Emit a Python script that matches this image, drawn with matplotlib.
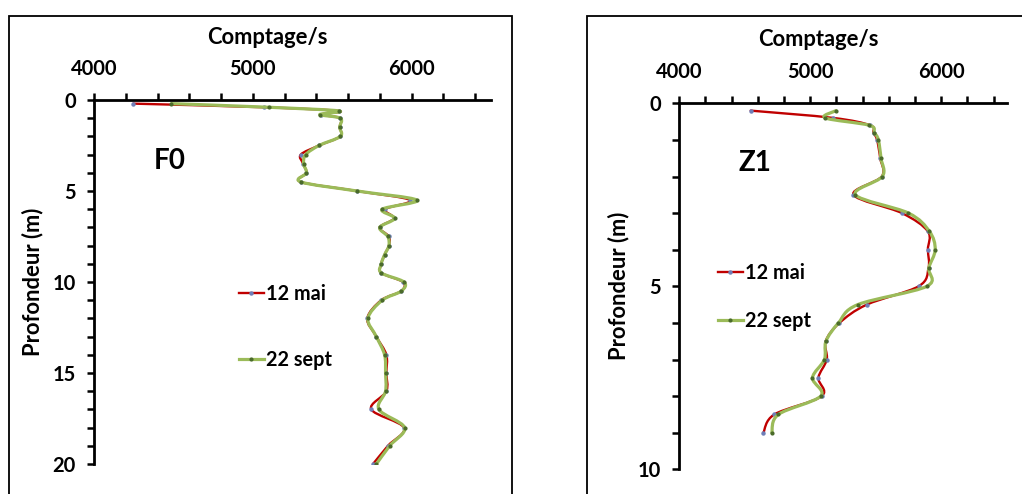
import numpy as np
import matplotlib.pyplot as plt
from matplotlib.path import Path
from matplotlib.patches import PathPatch, Rectangle
from matplotlib.lines import Line2D
from matplotlib.ticker import MultipleLocator, FixedLocator

plt.rcParams['font.family'] = ['Lato', 'DejaVu Sans']
plt.rcParams['font.weight'] = 'bold'

# F0 profile
depth_f0 = [0.2, 0.4, 0.6, 0.8, 1.0, 1.5, 2.0, 2.5, 3.0, 3.5, 4.0, 4.5, 5.0, 5.5,
            6.0, 6.5, 7.0, 7.5, 8.0, 8.5, 9.0, 9.5, 10.0, 10.5, 11.0,
            12, 13, 14, 15, 16, 17, 18, 19, 20]
mai_f0 = [4247, 5071, 5543, 5430, 5551, 5547, 5551, 5417, 5302, 5317, 5338, 5302, 5656, 5992,
          5834, 5889, 5799, 5857, 5857, 5830, 5809, 5809, 5945, 5935, 5809,
          5721, 5778, 5841, 5841, 5841, 5746, 5952, 5851, 5757]
sept_f0 = [4488, 5103, 5543, 5421, 5551, 5547, 5551, 5417, 5333, 5320, 5338, 5302, 5656, 6033,
           5815, 5893, 5799, 5850, 5857, 5830, 5809, 5809, 5952, 5935, 5815,
           5725, 5778, 5830, 5836, 5836, 5794, 5956, 5862, 5778]

# Z1 profile
depth_z1 = [0.2, 0.4, 0.6, 0.8, 1.0, 1.5, 2.0, 2.5, 3.0, 3.5, 4.0, 4.5, 5.0, 5.5,
            6.0, 6.5, 7.0, 7.5, 8.0, 8.5, 9.0]
mai_z1 = [4545, 5177, 5457, 5483, 5510, 5534, 5546, 5330, 5700, 5898, 5898, 5903, 5827, 5432,
          5223, 5118, 5126, 5062, 5088, 4726, 4642]
sept_z1 = [5197, 5113, 5450, 5490, 5520, 5540, 5550, 5345, 5750, 5910, 5954, 5905, 5890, 5363,
           5215, 5120, 5108, 5017, 5080, 4757, 4706]

labels = ['12 mai', '22 sept']
red = '#C00000'
green = '#9BBB59'


def smooth_path(x, y):
    # excel-like smoothed line: bezier segments with catmull-rom control points
    p = np.column_stack([x, y]).astype(float)
    verts = [p[0]]
    codes = [Path.MOVETO]
    n = len(p)
    for i in range(n - 1):
        p0 = p[i - 1] if i > 0 else p[i]
        p3 = p[i + 2] if i + 2 < n else p[i + 1]
        c1 = p[i] + (p[i + 1] - p0) / 6
        c2 = p[i + 1] - (p3 - p[i]) / 6
        verts += [c1, c2, p[i + 1]]
        codes += [Path.CURVE4] * 3
    return Path(verts, codes)


def panel(rect, depth, mai, sept, ymax, name, name_pos, xlab_x, ylab_x, leg_pos, leg_space):
    ax = fig.add_axes(rect)
    ax.add_patch(PathPatch(smooth_path(mai, depth), fill=False, ec=red, lw=1.7,
                           capstyle='round', joinstyle='round', zorder=3))
    ax.plot(mai, depth, ls='none', marker='o', ms=2.2, color='#6F7FB8', zorder=4)
    ax.add_patch(PathPatch(smooth_path(sept, depth), fill=False, ec=green, lw=2.3,
                           capstyle='round', joinstyle='round', zorder=5))
    ax.plot(sept, depth, ls='none', marker='o', ms=2.0, color='#4A6A2A', zorder=6)

    ax.set_xlim(4000, 6500)
    ax.set_ylim(ymax, 0)
    ax.xaxis.tick_top()
    ax.xaxis.set_label_position('top')
    ax.xaxis.set_major_locator(FixedLocator([4000, 5000, 6000]))
    ax.xaxis.set_minor_locator(MultipleLocator(200))
    ax.yaxis.set_major_locator(MultipleLocator(5))
    ax.yaxis.set_minor_locator(MultipleLocator(1))
    for s in ['right', 'bottom']:
        ax.spines[s].set_visible(False)
    for s in ['top', 'left']:
        ax.spines[s].set_linewidth(2)
    ax.tick_params(which='both', direction='out', length=5, width=1.8)
    ax.tick_params(axis='x', which='major', pad=10, labelsize=14.5)
    ax.tick_params(axis='y', which='major', pad=8, labelsize=14.5)
    ax.patch.set_visible(False)

    ax.set_xlabel('Comptage/s', fontsize=15.8, fontweight='bold')
    ax.xaxis.label.set_va('center')
    ax.xaxis.set_label_coords(xlab_x, 1.173)
    ax.set_ylabel('Profondeur (m)', fontsize=15.8, fontweight='bold')
    ax.yaxis.label.set_va('center')
    ax.yaxis.set_label_coords(ylab_x, 0.5)

    ax.text(name_pos[0], name_pos[1], name, transform=ax.transAxes, fontsize=20,
            fontweight='bold', ha='left', va='center')

    handles = [Line2D([], [], color=red, lw=1.7, marker='o', ms=2.2, mfc='#6F7FB8', mec='#6F7FB8'),
               Line2D([], [], color=green, lw=2.3, marker='o', ms=2.0, mfc='#4A6A2A', mec='#4A6A2A')]
    ax.legend(handles, labels, loc='upper left', bbox_to_anchor=leg_pos, frameon=False,
              borderpad=0, borderaxespad=0, handlelength=1.25, handletextpad=0.12,
              labelspacing=leg_space, numpoints=1, prop={'size': 14.3, 'weight': 'bold'})
    return ax


fig = plt.figure(figsize=(10.22, 4.94), dpi=100)

# chart area borders
fig.patches.append(Rectangle((9 / 1022, -0.05), 503 / 1022, 1.05 - 16 / 494,
                             transform=fig.transFigure, fill=False, ec='black', lw=1.3))
fig.patches.append(Rectangle((587 / 1022, -0.05), 0.5, 1.05 - 16 / 494,
                             transform=fig.transFigure, fill=False, ec='black', lw=1.3))

panel([94 / 1022, 1 - 464 / 494, 397 / 1022, 364 / 494], depth_f0, mai_f0, sept_f0, 20,
      'F0', (0.151, 0.833), 0.436, -0.154, (0.365, 0.494), 2.3)
panel([679.3 / 1022, 1 - 469.3 / 494, 327.4 / 1022, 366 / 494], depth_z1, mai_z1, sept_z1, 10,
      'Z1', (0.182, 0.837), 0.425, -0.187, (0.118, 0.564), 1.42)

fig.savefig('out.png', dpi=100)
